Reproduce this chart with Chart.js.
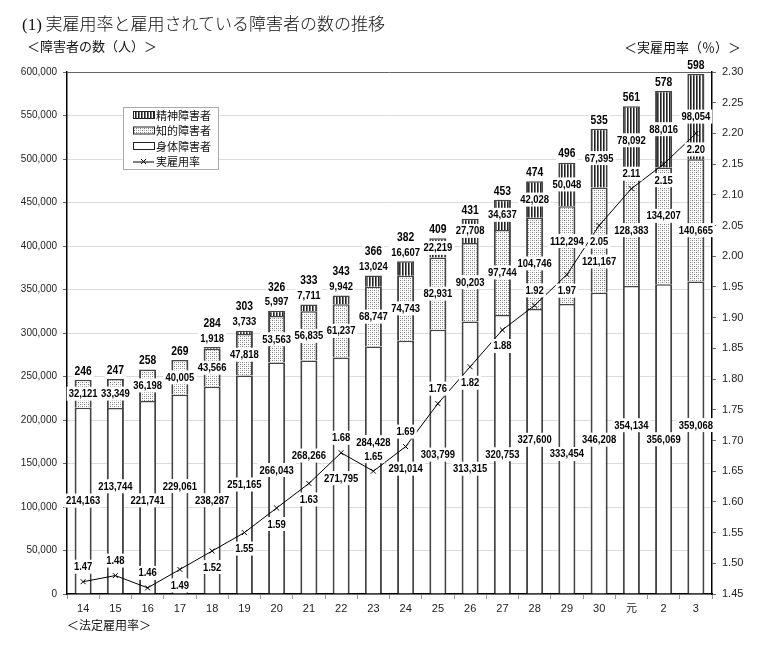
<!DOCTYPE html>
<html><head><meta charset="utf-8">
<script src="https://cdn.jsdelivr.net/npm/chart.js@4.4.0/dist/chart.umd.min.js"></script>
<style>
body{margin:0;background:#fff;}
#wrap{position:relative;width:762px;height:645px;overflow:hidden;}
canvas{position:absolute;left:0;top:0;}
.t{position:absolute;white-space:nowrap;color:#111;font-family:"Noto Sans CJK JP",sans-serif;line-height:1;}
</style></head><body>
<div id="wrap">
<canvas id="c" width="762" height="645"></canvas>
<div class="t" style="left:22px;top:14px;font-size:17px;font-weight:300;"><span style="font-family:'Liberation Serif',serif;">(1)</span> 実雇用率と雇用されている障害者の数の推移</div>
<div class="t" style="left:27px;top:39px;font-size:13px;">＜障害者の数（人）＞</div>
<div class="t" style="left:624px;top:40px;font-size:13px;">＜実雇用率（％）＞</div>
<div class="t" style="left:67px;top:619px;font-size:12px;">＜法定雇用率＞</div>
</div>
<script>
const categories = ['14','15','16','17','18','19','20','21','22','23','24','25','26','27','28','29','30','元','2','3'];
const physical = [214163,213744,221741,229061,238287,251165,266043,268266,271795,284428,291014,303799,313315,320753,327600,333454,346208,354134,356069,359068];
const intellectual = [32121,33349,36198,40005,43566,47818,53563,56835,61237,68747,74743,82931,90203,97744,104746,112294,121167,128383,134207,140665];
const mental = [null,null,null,null,1918,3733,5997,7711,9942,13024,16607,22219,27708,34637,42028,50048,67395,78092,88016,98054];
const employmentRate = [1.47,1.48,1.46,1.49,1.52,1.55,1.59,1.63,1.68,1.65,1.69,1.76,1.82,1.88,1.92,1.97,2.05,2.11,2.15,2.20];
const leftTicks = [0,50000,100000,150000,200000,250000,300000,350000,400000,450000,500000,550000,600000];
const rightTicks = [1.45,1.50,1.55,1.60,1.65,1.70,1.75,1.80,1.85,1.90,1.95,2.00,2.05,2.10,2.15,2.20,2.25,2.30];
// rate label placement (above / below the point)
const rateLabelSide = ['above','above','above','below','below','below','below','below','above','above','above','above','below','below','above','below','below','above','below','below'];

function makePattern(type){
  const c = document.createElement('canvas');
  const x = c.getContext('2d');
  if(type==='stripe'){
    c.width=3;c.height=3;
    x.fillStyle='#fff';x.fillRect(0,0,3,3);
    x.fillStyle='#222';x.fillRect(0,0,1.6,3);
  } else {
    c.width=4;c.height=4;
    x.fillStyle='#fff';x.fillRect(0,0,4,4);
    x.fillStyle='#777';x.fillRect(0,0,1,1);x.fillRect(2,2,1,1);
    x.fillStyle='#b5b5b5';x.fillRect(2,0,1,1);x.fillRect(0,2,1,1);
  }
  return x.createPattern(c,'repeat');
}
const ctx0 = document.getElementById('c').getContext('2d');
const stripePat = makePattern('stripe');
const dotPat = makePattern('dot');

const fmt = v => v.toLocaleString('en-US');
const LBL = {font:'bold 11px "Liberation Sans", Arial, sans-serif', sx:0.86};
const TOT = {font:'bold 12px "Liberation Sans", Arial, sans-serif', sx:0.86};

function textW(ctx, text, st){ ctx.font = st.font; return ctx.measureText(text).width * st.sx; }

function drawLabel(ctx, lb){
  ctx.save();
  ctx.fillStyle = '#fff';
  ctx.fillRect(lb.x - lb.w/2 - 2, lb.y - 7, lb.w + 4, 14);
  ctx.fillStyle = '#000';
  ctx.font = lb.st.font;
  ctx.textAlign = 'center';
  ctx.textBaseline = 'middle';
  ctx.translate(lb.x, lb.y + 0.5);
  ctx.scale(lb.st.sx, 1);
  ctx.fillText(lb.text, 0, 0);
  ctx.restore();
}

const labelPlugin = {
  id:'labels',
  afterDatasetsDraw(chart){
    const ctx = chart.ctx;
    const area = chart.chartArea;
    const mP = chart.getDatasetMeta(0), mI = chart.getDatasetMeta(1), mM = chart.getDatasetMeta(2), mR = chart.getDatasetMeta(3);
    const pts = mR.data.map(e => ({x:e.x, y:e.y}));
    const lineYAt = x => {
      for(let k=0;k<pts.length-1;k++){
        if(x >= pts[k].x && x <= pts[k+1].x){
          const t = (x - pts[k].x)/(pts[k+1].x - pts[k].x);
          return pts[k].y + t*(pts[k+1].y - pts[k].y);
        }
      }
      return null;
    };
    const placed = [];
    const labels = [];
    const boxOf = (x,y,w) => ({l:x-w/2, r:x+w/2, t:y-7, b:y+7});
    const overlaps = b => placed.some(p => b.l < p.r && b.r > p.l && b.t < p.b && b.b > p.t);
    const hitsLine = b => {
      for(let x=b.l-1; x<=b.r+1; x+=1.5){
        const y = lineYAt(x);
        if(y !== null && y > b.t - 1 && y < b.b + 1) return true;
      }
      return false;
    };
    const add = (text, x, y, st) => {
      const w = textW(ctx, text, st);
      placed.push(boxOf(x,y,w));
      labels.push({text, x, y, w, st});
    };
    const place = (text, x, yPref, st) => {
      const w = textW(ctx, text, st);
      for(let d=0; d<200; d+=0.5){
        for(const y of [yPref - d, yPref + d*0.75]){
          const b = boxOf(x,y,w);
          if(b.t < area.top - 14 || b.b > area.bottom) continue;
          if(!overlaps(b) && !hitsLine(b)){
            placed.push(b); labels.push({text,x,y,w,st}); return;
          }
        }
      }
      add(text, x, yPref, st);
    };
    // rate points and rate labels (fixed)
    pts.forEach((p,i) => {
      placed.push({l:p.x-4, r:p.x+4, t:p.y-4, b:p.y+4});
      const rly = rateLabelSide[i]==='above' ? p.y - 15 : p.y + 16;
      add(employmentRate[i].toFixed(2), p.x, rly, LBL);
    });
    // totals and mental
    categories.forEach((c,i) => {
      const q = mI.data[i];
      let top = q.y, totalY;
      if(mental[i] !== null){
        const m = mM.data[i];
        top = m.y;
        const h = m.base - m.y;
        if(h >= 18){ place(fmt(mental[i]), m.x, (m.y+m.base)/2, LBL); totalY = top - 9; }
        else { add(fmt(mental[i]), m.x, top - 9, LBL); totalY = top - 24; }
      } else totalY = top - 9;
      const total = physical[i] + intellectual[i] + (mental[i] || 0);
      add(String(Math.round(total/1000)), q.x, totalY, TOT);
    });
    // intellectual
    categories.forEach((c,i) => {
      const q = mI.data[i];
      place(fmt(intellectual[i]), q.x, (q.y+q.base)/2, LBL);
    });
    // physical
    categories.forEach((c,i) => {
      const p = mP.data[i];
      place(fmt(physical[i]), p.x, (p.y+p.base)/2, LBL);
    });
    labels.forEach(lb => drawLabel(ctx, lb));
  },
  afterDraw(chart){
    const ctx = chart.ctx;
    ctx.save();
    const L = 123, T = 107, W = 95, H = 62;
    ctx.fillStyle = '#fff';
    ctx.fillRect(L, T, W, H);
    ctx.strokeStyle = '#aaa'; ctx.lineWidth = 1;
    ctx.strokeRect(L+0.5, T+0.5, W, H);
    const items = [
      {t:'精神障害者', fill:stripePat},
      {t:'知的障害者', fill:dotPat},
      {t:'身体障害者', fill:'#fff'},
      {t:'実雇用率', line:true}
    ];
    ctx.font = '11px "Noto Sans CJK JP", sans-serif';
    ctx.textBaseline = 'middle'; ctx.textAlign = 'left';
    items.forEach((it,k)=>{
      const y = 115 + k*15.5;
      if(it.line){
        ctx.strokeStyle = '#000'; ctx.lineWidth = 1;
        ctx.beginPath(); ctx.moveTo(133, y+0.5); ctx.lineTo(154, y+0.5); ctx.stroke();
        ctx.beginPath();
        ctx.moveTo(141, y-2.5); ctx.lineTo(146, y+2.5);
        ctx.moveTo(146, y-2.5); ctx.lineTo(141, y+2.5);
        ctx.stroke();
      } else {
        ctx.fillStyle = it.fill;
        ctx.fillRect(133, y-3, 21, 6);
        ctx.strokeStyle = '#222'; ctx.lineWidth = 1;
        ctx.strokeRect(133.5, y-3.5, 21, 7);
      }
      ctx.fillStyle = '#111';
      ctx.fillText(it.t, 156, y + 0.5);
    });
    ctx.restore();
  }
};

const barCommon = {
  stack:'s', yAxisID:'y', order:1,
  borderColor:'#444',
  borderWidth:{left:2, right:2, top:1.5, bottom:0},
  borderSkipped:'start',
  categoryPercentage:1.0, barPercentage:0.53
};

new Chart(ctx0, {
  type:'bar',
  data:{
    labels:categories,
    datasets:[
      Object.assign({label:'身体障害者', data:physical, backgroundColor:'#fff'}, barCommon),
      Object.assign({label:'知的障害者', data:intellectual, backgroundColor:dotPat}, barCommon),
      Object.assign({label:'精神障害者', data:mental, backgroundColor:stripePat}, barCommon),
      {type:'line', label:'実雇用率', data:employmentRate, yAxisID:'y1', order:0,
       borderColor:'#000', borderWidth:1, pointStyle:'crossRot', pointRadius:3.5,
       pointBorderColor:'#000', pointBorderWidth:1, fill:false, tension:0}
    ]
  },
  options:{
    responsive:false, animation:false, devicePixelRatio:1,
    layout:{padding:{top:72, left:0, right:0, bottom:0}},
    plugins:{legend:{display:false}, tooltip:{enabled:false}},
    scales:{
      x:{
        stacked:true, offset:true,
        grid:{display:true, drawOnChartArea:false, drawTicks:true, tickLength:5, color:'#999', offset:true},
        border:{display:true, color:'#000', width:1.5},
        ticks:{font:{size:11, family:'"Liberation Sans", "Noto Sans CJK JP"'}, color:'#222', padding:3, maxRotation:0, autoSkip:false},
        afterFit(s){ s.height = 51; }
      },
      y:{
        stacked:true, min:0, max:600000,
        afterBuildTicks(s){ s.ticks = leftTicks.map(v=>({value:v})); },
        ticks:{callback:v=>fmt(v), font:{size:10, family:'"Liberation Sans", Arial'}, color:'#222', padding:6},
        grid:{color:c=> (c.tick && c.tick.value===600000) ? '#666' : '#dcdcdc', tickColor:'#666', tickLength:4, lineWidth:1},
        border:{display:true, color:'#000', width:1.5},
        afterFit(s){ s.width = 67; }
      },
      y1:{
        position:'right', min:1.45, max:2.30,
        afterBuildTicks(s){ s.ticks = rightTicks.map(v=>({value:v})); },
        ticks:{callback:v=>Number(v).toFixed(2), font:{size:11, family:'"Liberation Sans", Arial'}, color:'#222', padding:6},
        grid:{drawOnChartArea:false, tickColor:'#666', tickLength:4},
        border:{display:true, color:'#000', width:1.5},
        afterFit(s){ s.width = 50; }
      }
    }
  },
  plugins:[labelPlugin]
});
</script>
</body></html>
